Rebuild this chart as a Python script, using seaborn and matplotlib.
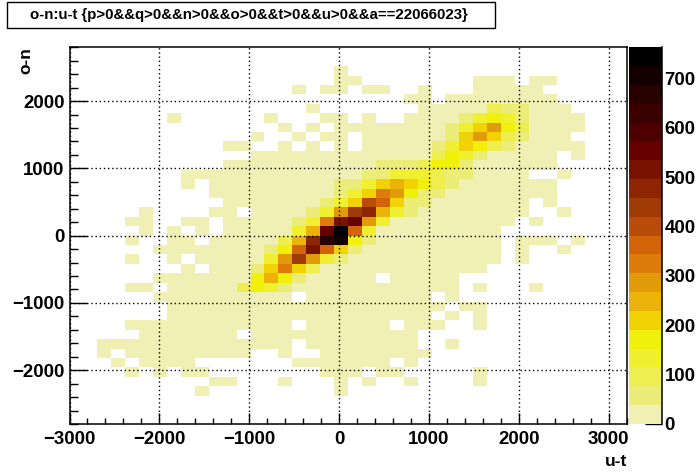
import matplotlib
matplotlib.use("Agg")
import matplotlib.pyplot as plt
from matplotlib.colors import ListedColormap
from matplotlib.patches import Rectangle
import numpy as np
import seaborn as sns

# histogram binning: 40 x 40 bins
x_min, x_max = -3000, 3200
y_min, y_max = -2800, 2800

x_ticks = [-3000, -2000, -1000, 0, 1000, 2000, 3000]
x_labels = ["\u22123000", "\u22122000", "\u22121000", "0", "1000", "2000", "3000"]
y_ticks = [-2000, -1000, 0, 1000, 2000]
y_labels = ["\u22122000", "\u22121000", "0", "1000", "2000"]
x_minor = list(range(-3000, 3201, 200))
y_minor = list(range(-2800, 2801, 200))
z_ticks = [0, 100, 200, 300, 400, 500, 600, 700]
z_max = 763

# estimated bin contents, one list per row from the top of the plot
row_00 = [0] * 40
row_01 = [0] * 40
row_02 = [0,0,0,0,0,0,0,0,0,0, 0,0,0,0,0,0,0,0,0,10, 0,0,0,0,0,0,0,0,0,0, 0,0,0,0,0,0,0,0,0,0]
row_03 = [0,0,0,0,0,0,0,0,0,0, 0,0,0,0,0,0,0,0,0,10, 10,0,0,0,0,0,0,0,0,10, 10,10,0,10,10,0,0,0,0,0]
row_04 = [0,0,0,0,0,0,0,0,0,0, 0,0,0,0,0,0,10,0,10,10, 0,10,10,0,0,10,0,0,0,10, 10,10,10,10,0,0,0,0,0,0]
row_05 = [0,0,0,0,0,0,0,0,0,0, 0,0,0,0,0,0,0,0,0,0, 0,0,0,0,10,10,0,10,10,10, 10,10,10,10,10,0,0,0,0,0]
row_06 = [0,0,0,0,0,0,0,0,0,0, 0,0,0,0,0,0,0,10,0,0, 0,0,0,0,0,10,10,10,10,10, 95,57,57,10,10,10,0,0,0,0]
row_07 = [0,0,0,0,0,0,0,10,0,0, 0,0,0,0,10,0,0,0,10,10, 0,10,0,0,10,10,10,10,57,133, 172,133,57,10,10,10,10,0,0,0]
row_08 = [0,0,0,0,0,0,0,0,0,0, 0,0,0,0,0,10,0,10,0,10, 10,10,10,10,10,10,10,57,133,210, 286,172,95,10,10,10,10,0,0,0]
row_09 = [0,0,0,0,0,0,0,0,0,0, 0,0,0,10,0,0,10,0,10,10, 0,10,10,10,10,10,10,57,210,286, 210,95,57,10,10,10,0,0,0,0]
row_10 = [0,0,0,0,0,0,0,0,0,0, 0,10,10,0,0,10,0,10,0,10, 0,10,10,10,10,10,57,133,210,172, 95,57,10,10,10,10,10,0,0,0]
row_11 = [0,0,0,0,0,0,0,0,0,0, 0,0,0,10,10,10,10,10,10,10, 10,10,10,10,10,10,95,172,133,57, 10,10,10,10,10,0,10,0,0,0]
row_12 = [0,0,0,0,0,0,0,0,0,0, 0,10,10,10,10,10,10,10,10,10, 10,10,57,57,57,95,172,172,57,10, 10,10,10,10,10,0,0,0,0,0]
row_13 = [0,0,0,0,0,0,0,0,10,10, 10,10,10,10,10,10,10,10,10,10, 10,57,57,133,133,133,95,57,57,10, 10,10,10,0,0,10,0,0,0,0]
row_14 = [0,0,0,0,0,0,0,0,10,0, 10,10,10,10,10,10,10,10,10,57, 57,133,210,248,210,172,95,57,10,10, 10,10,10,10,10,0,0,0,0,0]
row_15 = [0,0,0,0,0,0,0,0,0,0, 10,10,10,10,10,10,10,10,10,57, 133,210,324,286,172,57,57,10,10,10, 10,10,10,10,10,0,0,0,0,0]
row_16 = [0,0,0,0,0,0,0,0,0,0, 0,10,10,10,10,10,10,10,57,133, 210,400,362,210,57,57,10,10,10,10, 10,10,10,0,10,0,0,0,0,0]
row_17 = [0,0,0,0,0,10,0,0,0,0, 10,10,0,10,10,10,10,57,133,286, 439,477,248,133,57,10,10,10,10,10, 10,10,10,0,0,10,0,0,0,0]
row_18 = [0,0,0,0,10,10,0,0,10,10, 0,10,10,10,10,10,57,133,324,515, 553,286,133,10,10,10,10,10,10,10, 10,10,0,10,0,0,0,0,0,0]
row_19 = [0,0,0,0,0,10,0,10,0,10, 0,10,10,10,10,10,133,248,553,763, 362,133,10,10,10,10,10,10,10,10, 10,0,0,0,0,0,0,0,0,0]
row_20 = [0,0,0,0,10,0,0,10,10,0, 10,10,10,10,10,95,248,477,668,706, 172,57,10,10,10,10,10,10,10,10, 10,0,10,10,10,0,10,0,0,0]
row_21 = [0,0,0,0,0,0,10,10,10,10, 10,10,10,10,57,172,362,515,362,210, 57,10,10,10,10,10,10,10,10,10, 10,0,10,0,0,10,0,0,0,0]
row_22 = [0,0,0,0,10,0,0,10,0,10, 10,10,10,10,133,286,439,286,133,57, 10,10,10,10,10,10,10,10,10,10, 10,0,10,0,0,0,0,0,0,0]
row_23 = [0,0,0,0,0,0,0,0,10,0, 10,10,10,57,210,324,210,95,10,10, 10,10,10,10,10,10,10,10,10,10, 0,0,0,0,0,0,0,0,0,0]
row_24 = [0,0,0,0,0,0,10,10,10,10, 10,10,10,172,248,172,57,10,10,10, 10,10,0,10,10,10,10,10,0,0, 0,0,0,0,0,0,0,0,0,0]
row_25 = [0,0,0,0,10,10,0,10,10,10, 10,10,95,172,133,57,10,10,10,10, 10,10,10,10,10,10,10,10,0,10, 0,0,0,10,0,0,0,0,0,0]
row_26 = [0,0,0,0,0,0,10,10,10,10, 10,10,10,10,10,10,0,10,10,10, 10,10,10,10,10,10,0,10,0,0, 0,0,0,0,0,0,0,0,0,0]
row_27 = [0,0,0,0,0,0,0,10,10,10, 10,10,10,10,10,10,10,10,10,10, 10,10,10,10,10,10,10,0,10,10, 0,0,0,0,0,0,0,0,0,0]
row_28 = [0,0,0,0,0,0,0,10,10,10, 10,10,10,10,10,10,10,10,10,10, 10,10,10,10,10,10,0,10,0,10, 0,0,0,0,0,0,0,0,0,0]
row_29 = [0,0,0,0,10,10,10,10,10,10, 10,10,10,10,10,10,0,10,10,10, 10,10,10,0,10,10,10,0,0,10, 0,0,0,0,0,0,0,0,0,0]
row_30 = [0,0,0,0,0,10,10,10,10,10, 10,10,0,10,10,10,10,10,10,10, 10,10,10,10,10,0,0,0,0,0, 0,0,0,0,0,0,0,0,0,0]
row_31 = [0,0,10,10,10,10,10,10,10,10, 10,10,10,10,10,10,0,10,10,10, 10,10,10,10,10,0,0,10,0,0, 0,0,0,0,0,0,0,0,0,0]
row_32 = [0,0,10,0,10,10,10,10,10,10, 10,10,10,0,0,10,0,0,10,10, 10,10,10,10,10,10,0,0,0,0, 0,0,0,0,0,0,0,0,0,0]
row_33 = [0,0,0,10,0,10,10,10,10,0, 0,0,0,0,0,0,10,10,10,10, 10,10,10,0,10,0,0,0,0,0, 0,0,0,0,0,0,0,0,0,0]
row_34 = [0,0,0,0,10,0,10,0,10,10, 0,0,0,0,0,0,0,0,10,10, 10,0,10,10,0,0,0,0,0,10, 0,0,0,0,0,0,0,0,0,0]
row_35 = [0,0,0,0,0,0,0,0,0,0, 10,10,0,0,0,10,0,0,0,10, 0,10,0,0,10,0,0,0,0,10, 0,0,0,0,0,0,0,0,0,0]
row_36 = [0,0,0,0,0,0,0,0,0,10, 0,0,0,0,0,0,0,0,0,10, 0,0,0,0,0,0,0,0,0,0, 0,0,0,0,0,0,0,0,0,0]
row_37 = [0] * 40
row_38 = [0] * 40
row_39 = [0] * 40

rows = [row_00, row_01, row_02, row_03, row_04, row_05, row_06, row_07, row_08, row_09,
        row_10, row_11, row_12, row_13, row_14, row_15, row_16, row_17, row_18, row_19,
        row_20, row_21, row_22, row_23, row_24, row_25, row_26, row_27, row_28, row_29,
        row_30, row_31, row_32, row_33, row_34, row_35, row_36, row_37, row_38, row_39]

# the 20 palette bands, bottom to top of the colour bar
palette = ["#f0f0b4", "#ecec78", "#eeee50", "#f0f030", "#f0f00a",
           "#f0d205", "#ebb20a", "#e19a0a", "#dd7c08", "#d4640a",
           "#b84c08", "#a03a04", "#8c2500", "#781200", "#640000",
           "#4e0000", "#3a0000", "#280000", "#140000", "#000000"]


def x_pos(value):
    # data value to heatmap cell coordinate
    return (value - x_min) / (x_max - x_min) * 40


def y_pos(value):
    return (y_max - value) / (y_max - y_min) * 40


W, H = 696, 472
sns.set_style("ticks")
plt.rcParams["font.family"] = ["Liberation Sans", "DejaVu Sans"]
plt.rcParams["font.weight"] = "bold"
plt.rcParams["text.color"] = "black"
plt.rcParams["xtick.color"] = "black"
plt.rcParams["ytick.color"] = "black"

counts = np.array(rows)
fig = plt.figure(figsize=(W / 100, H / 100), dpi=100)
ax = fig.add_axes([69.5 / W, 1 - 424 / H, 557 / W, 376.7 / H])
cax = fig.add_axes([629 / W, 1 - 424 / H, 32.7 / W, 376.7 / H])

sns.heatmap(counts, mask=counts == 0, cmap=ListedColormap(palette), vmin=0, vmax=z_max,
            ax=ax, cbar_ax=cax, cbar_kws={"ticks": z_ticks},
            xticklabels=False, yticklabels=False)

ax.set_xticks([x_pos(v) for v in x_ticks], x_labels)
ax.set_yticks([y_pos(v) for v in y_ticks], y_labels)
ax.set_xticks([x_pos(v) for v in x_minor], minor=True)
ax.set_yticks([y_pos(v) for v in y_minor], minor=True)
ax.tick_params(axis="x", which="major", direction="in", length=8, width=1, labelsize=13.4, pad=5, color="black", labelcolor="black", rotation=0)
ax.tick_params(axis="x", which="minor", direction="in", length=4, width=1, color="black")
ax.tick_params(axis="y", which="major", direction="in", length=12.5, width=1, labelsize=13.4, pad=3.5, color="black", labelcolor="black", rotation=0)
ax.tick_params(axis="y", which="minor", direction="in", length=6, width=1, color="black")
ax.set_axisbelow(False)
ax.grid(True, which="major", color="black", linestyle=(0, (1, 2)), linewidth=1)
for spine in ax.spines.values():
    spine.set_visible(True)
    spine.set_color("black")
    spine.set_linewidth(1.1)

ax.set_xlabel("")
ax.set_ylabel("")
fig.text(627 / W, 1 - 461 / H, "u-t", ha="right", va="center", fontsize=12.5, fontweight="bold", color="black")
fig.text(26 / W, 1 - 47 / H, "o-n", ha="center", va="top", rotation=90, fontsize=12.5, fontweight="bold", color="black")

# colour bar: ticks inside, only the right line drawn
cbar = ax.collections[0].colorbar
cbar.outline.set_visible(False)
cax.spines["right"].set_visible(True)
cax.spines["right"].set_color("black")
cax.spines["right"].set_linewidth(1.1)
cax.tick_params(axis="y", which="major", direction="in", length=12.5, width=1, labelsize=13.4, pad=2, color="black", labelcolor="black", right=True)
cax.minorticks_off()

# title box
fig.add_artist(Rectangle((7 / W, 1 - 28 / H), 488 / W, 26 / H, transform=fig.transFigure,
                         facecolor="white", edgecolor="black", linewidth=1))
fig.text(249 / W, 1 - 15 / H, "o-n:u-t {p>0&&q>0&&n>0&&o>0&&t>0&&u>0&&a==22066023}",
         ha="center", va="center", fontsize=10.8, fontweight="bold", color="black")

fig.savefig("out.png", dpi=100)
